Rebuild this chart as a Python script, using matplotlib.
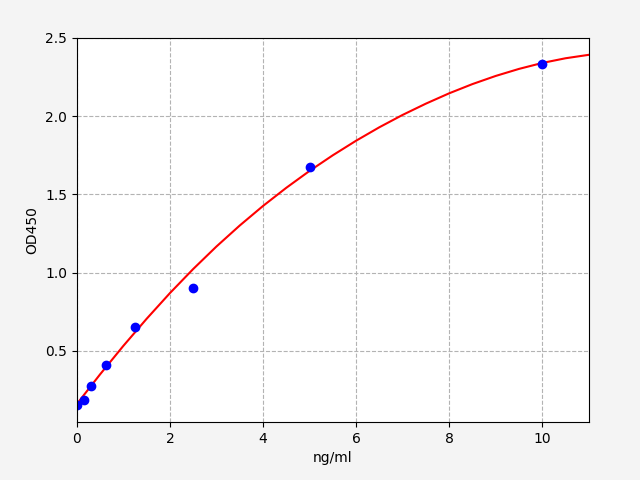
import matplotlib
matplotlib.use("Agg")
import matplotlib.pyplot as plt

# measured standards
conc = [0, 0.156, 0.3125, 0.625, 1.25, 2.5, 5, 10]
od = [0.155, 0.187, 0.276, 0.409, 0.651, 0.90, 1.676, 2.334]

# fitted curve
curve_x = [0, 0.5, 1, 1.5, 2, 2.5, 3, 3.5, 4, 4.5, 5, 5.5,
           6, 6.5, 7, 7.5, 8, 8.5, 9, 9.5, 10, 10.5, 11]
curve_y = [0.16, 0.35, 0.532, 0.705, 0.869, 1.023, 1.167, 1.301, 1.426, 1.542, 1.65, 1.75,
           1.843, 1.929, 2.008, 2.08, 2.146, 2.205, 2.257, 2.302, 2.34, 2.37, 2.392]

fig = plt.figure(figsize=(6.4, 4.8), dpi=100, facecolor="#f4f4f4")
ax = fig.add_subplot(111)
fig.subplots_adjust(left=0.120, right=0.920, top=0.921, bottom=0.121)

ax.plot(curve_x, curve_y, color="red", linewidth=1.5)
ax.plot(conc, od, "o", color="blue", markersize=6)

ax.set_xlim(0, 11)
ax.set_ylim(0.046, 2.5)
ax.set_xlabel("ng/ml")
ax.set_ylabel("OD450")
ax.grid(True, ls="--", c="0.7")

fig.savefig("out.png", facecolor=fig.get_facecolor())
